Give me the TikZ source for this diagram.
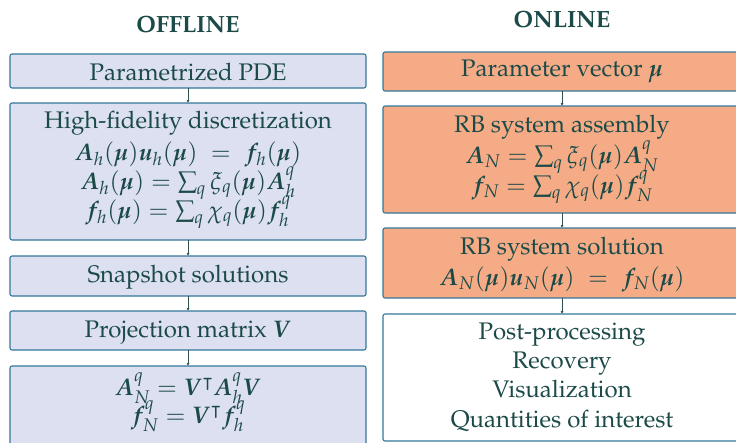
\documentclass[tikz,border=0pt]{standalone}
\usepackage[T1]{fontenc}
\usepackage{amsmath,amssymb}
\usepackage{mathpazo}
\usepackage{bm}
\usetikzlibrary{arrows.meta}
\definecolor{txt}{HTML}{1C4A48}
\definecolor{brd}{HTML}{34789A}
\definecolor{lav}{HTML}{DCE0F1}
\definecolor{sal}{HTML}{F5AC86}
\definecolor{arr}{HTML}{2F4F4F}
\tikzset{
  box/.style={draw=brd, line width=1.1pt, rounded corners=2pt},
  offbox/.style={box, fill=lav},
  onbox/.style={box, fill=sal},
  resbox/.style={box, fill=white},
  txtline/.style={anchor=base, text=txt, inner sep=0pt, font=\fontsize{24}{28}\selectfont},
  title/.style={anchor=base, text=txt, inner sep=0pt, font=\fontsize{23.5}{28}\selectfont\bfseries},
  conn/.style={draw=arr, line width=0.6pt, -{Latex[length=3pt,width=3pt]}}
}
\begin{document}
\begin{tikzpicture}[x=1pt,y=-1pt]
\useasboundingbox (0,0) rectangle (736,442);
\begin{scope}
\clip (0,0) rectangle (736,442);
% titles
\node[title] (toff) at (188,32) {OFFLINE};
\node[title] (ton) at (562,27) {ONLINE};
% offline boxes
\path[offbox] (10,54) rectangle (366,88); \coordinate (o1t) at (188,54); \coordinate (o1b) at (188,88);
\path[offbox] (10,103) rectangle (366,240); \coordinate (o2t) at (188,103); \coordinate (o2b) at (188,240);
\path[offbox] (10,256) rectangle (366,296); \coordinate (o3t) at (188,256); \coordinate (o3b) at (188,296);
\path[offbox] (10,311) rectangle (366,350); \coordinate (o4t) at (188,311); \coordinate (o4b) at (188,350);
\path[offbox] (10,366) rectangle (366,460); \coordinate (o5t) at (188,366);
% online boxes
\path[onbox] (383,52) rectangle (741,91); \coordinate (n1t) at (562,52); \coordinate (n1b) at (562,91);
\path[onbox] (383,106) rectangle (741,213); \coordinate (n2t) at (562,106); \coordinate (n2b) at (562,213);
\path[onbox] (383,228) rectangle (741,298); \coordinate (n3t) at (562,228); \coordinate (n3b) at (562,298);
\path[resbox] (383,314) rectangle (741,441); \coordinate (n4t) at (562,314);
% connectors
\draw[conn] (o1b) -- (o2t);
\draw[conn] (o2b) -- (o3t);
\draw[conn] (o3b) -- (o4t);
\draw[conn] (o4b) -- (o5t);
\draw[conn] (n1b) -- (n2t);
\draw[conn] (n2b) -- (n3t);
\draw[conn] (n3b) -- (n4t);
% offline text
\node[txtline] (a1) at (188,80) {Parametrized PDE};
\node[txtline] (a2) at (188,128) {High-fidelity discretization};
\node[txtline] (a3) at (188,160) {$\bm{A}_h(\bm{\mu})\bm{u}_h(\bm{\mu}) \;=\; \bm{f}_h(\bm{\mu})$};
\node[txtline] (a4) at (188,189) {$\bm{A}_h(\bm{\mu}) = \sum_q \xi_q(\bm{\mu})\bm{A}_h^q$};
\node[txtline] (a5) at (188,218) {$\bm{f}_h(\bm{\mu}) = \sum_q \chi_q(\bm{\mu})\bm{f}_h^q$};
\node[txtline] (a6) at (188,282) {Snapshot solutions};
\node[txtline] (a7) at (188,337) {Projection matrix $\bm{V}$};
\node[txtline] (a8) at (188,395) {$\bm{A}_N^q = \bm{V}^{\intercal}\bm{A}_h^q\bm{V}$};
\node[txtline] (a9) at (188,423) {$\bm{f}_N^q = \bm{V}^{\intercal}\bm{f}_h^q$};
% online text
\node[txtline] (b1) at (562,76) {Parameter vector $\bm{\mu}$};
\node[txtline] (b2) at (562,132) {RB system assembly};
\node[txtline] (b3) at (562,163) {$\bm{A}_N = \sum_q \xi_q(\bm{\mu})\bm{A}_N^q$};
\node[txtline] (b4) at (562,193) {$\bm{f}_N = \sum_q \chi_q(\bm{\mu})\bm{f}_N^q$};
\node[txtline] (b5) at (562,254) {RB system solution};
\node[txtline] (b6) at (562,285) {$\bm{A}_N(\bm{\mu})\bm{u}_N(\bm{\mu}) \;=\; \bm{f}_N(\bm{\mu})$};
\node[txtline] (b7) at (562,339) {Post-processing};
\node[txtline] (b8) at (562,368) {Recovery};
\node[txtline] (b9) at (562,397) {Visualization};
\node[txtline] (b10) at (562,427) {Quantities of interest};
\end{scope}
\end{tikzpicture}
\end{document}
